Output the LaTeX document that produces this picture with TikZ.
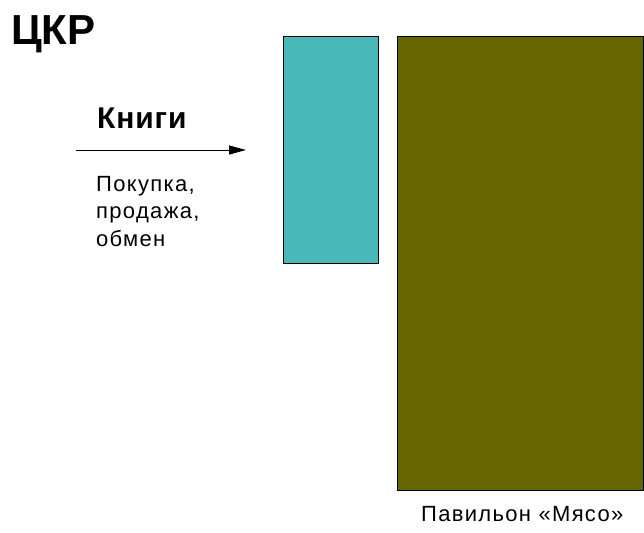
\documentclass[tikz,border=0pt]{standalone}
\usepackage{fontspec}
\setmainfont{Liberation Sans}
\newfontfamily\spacedfont[LetterSpace=6]{Liberation Sans}
\newfontfamily\spacedbold[LetterSpace=3]{Liberation Sans Bold}
\usetikzlibrary{arrows.meta}
\definecolor{tealfill}{RGB}{72,184,184}
\definecolor{olivefill}{RGB}{102,102,0}
\begin{document}
\begin{tikzpicture}[x=1pt,y=-1pt,
  block/.style={draw=black,line width=1pt,minimum width=#1,inner sep=0pt,anchor=north west},
  txt/.style={inner sep=0pt,anchor=base west,align=left}]
\useasboundingbox (0,0) rectangle (644,532);
\node (title) [txt,font=\fontsize{42}{48}\selectfont\bfseries] at (11,45) {ЦКР};
\node (books) [txt,font=\spacedbold\fontsize{30}{34}\selectfont] at (97,128) {Книги};
\coordinate (arrS) at (76,150);
\coordinate (arrE) at (246,150);
\draw[line width=1pt,-{Triangle[length=17pt,width=9pt]}] (arrS) -- (arrE);
\node (deal) [txt,font=\spacedfont\fontsize{22}{27.5}\selectfont,anchor=north west] at (96,176) {Покупка,\\продажа,\\обмен};
\node (kiosk) [block=95pt,fill=tealfill,minimum height=227pt] at (283,36) {};
\node (meat) [block=246pt,fill=olivefill,minimum height=454pt] at (397,36) {};
\node (meatlbl) [txt,font=\spacedfont\fontsize{22}{27}\selectfont] at (421,521) {Павильон «Мясо»};
\end{tikzpicture}
\end{document}
